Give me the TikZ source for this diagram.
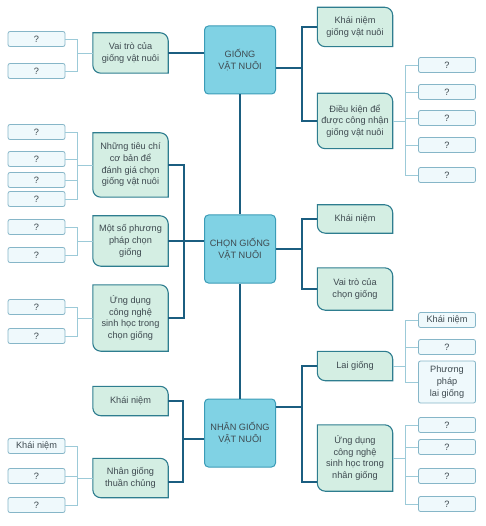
\documentclass[tikz,border=0pt]{standalone}
\usepackage{fontspec}
\setmainfont{Liberation Sans}
\usepackage{tikz}
\usetikzlibrary{positioning,backgrounds}
\definecolor{mainfill}{HTML}{80D2E4}
\definecolor{mainedge}{HTML}{3B9CB7}
\definecolor{subfill}{HTML}{D4EEE3}
\definecolor{subedge}{HTML}{2E7D8F}
\definecolor{leaffill}{HTML}{EFF9FC}
\definecolor{leafedge}{HTML}{86B6C8}
\definecolor{linkcol}{HTML}{1B5E80}
\definecolor{leaflinkcol}{HTML}{9CCAD8}
\definecolor{txt}{HTML}{3E4A50}

\begin{document}
\begin{tikzpicture}[x=1pt,y=-1pt,every node/.style={font=\fontsize{9.2}{11.7}\selectfont,text=txt},
 mainbox/.style={draw=mainedge,fill=mainfill,line width=1pt,rounded corners=4pt,minimum width=71pt,minimum height=68pt,align=center},
 subbox/.style={minimum width=75pt,inner sep=1pt,align=center},
 subshape/.style={draw=subedge,fill=subfill,line width=1.1pt},
 leaf/.style={draw=leafedge,fill=leaffill,line width=0.8pt,rounded corners=2pt,minimum width=57pt,minimum height=15pt,inner sep=1pt,align=center},
 link/.style={draw=linkcol,line width=1.7pt},
 leaflink/.style={draw=leaflinkcol,line width=0.7pt}]
\useasboundingbox (0,0) rectangle (485,526);
% main topics
\node[mainbox](gv) at (240,60){GIỐNG\\VẬT NUÔI};
\node[mainbox](cg) at (240,249){CHỌN GIỐNG\\VẬT NUÔI};
\node[mainbox](ng) at (240,433){NHÂN GIỐNG\\VẬT NUÔI};
% sub topics
\node[subbox,minimum height=40pt](vtg) at (130.5,53){Vai trò của\\giống vật nuôi};
\node[subbox,minimum height=64pt](tc) at (130.5,165){Những tiêu chí\\cơ bản để\\đánh giá chọn\\giống vật nuôi};
\node[subbox,minimum height=50pt](pp) at (130.5,241){Một số phương\\pháp chọn\\giống};
\node[subbox,minimum height=66pt](udc) at (130.5,318){Ứng dụng\\công nghệ\\sinh học trong\\chọn giống};
\node[subbox,minimum height=29pt](knn) at (130.5,401){Khái niệm};
\node[subbox,minimum height=39pt](tcg) at (130.5,478){Nhân giống\\thuần chủng};
\node[subbox,minimum height=39pt](kng) at (355,27){Khái niệm\\giống vật nuôi};
\node[subbox,minimum height=55pt](dk) at (355,121){Điều kiện để\\được công nhận\\giống vật nuôi};
\node[subbox,minimum height=28pt](knc) at (355,219){Khái niệm};
\node[subbox,minimum height=42pt](vtc) at (355,289){Vai trò của\\chọn giống};
\node[subbox,minimum height=29pt](lg) at (355,366){Lai giống};
\node[subbox,minimum height=66pt](udn) at (355,458){Ứng dụng\\công nghệ\\sinh học trong\\nhân giống};
% leaves
\node[leaf](vtg1) at (36.5,39){?}; \node[leaf](vtg2) at (36.5,71){?};
\node[leaf](tc1) at (36.5,132){?}; \node[leaf](tc2) at (36.5,159){?};
\node[leaf](tc3) at (36.5,180){?}; \node[leaf](tc4) at (36.5,199){?};
\node[leaf](pp1) at (36.5,227){?}; \node[leaf](pp2) at (36.5,255){?};
\node[leaf](udc1) at (36.5,307){?}; \node[leaf](udc2) at (36.5,336){?};
\node[leaf](tcg1) at (36.5,446){Khái niệm}; \node[leaf](tcg2) at (36.5,476){?}; \node[leaf](tcg3) at (36.5,505){?};
\node[leaf](dk1) at (447,65){?}; \node[leaf](dk2) at (447,92){?}; \node[leaf](dk3) at (447,118){?};
\node[leaf](dk4) at (447,145){?}; \node[leaf](dk5) at (447,175){?};
\node[leaf](lg1) at (447,320){Khái niệm}; \node[leaf](lg2) at (447,347){?};
\node[leaf,minimum height=42pt](lg3) at (447,382){Phương\\pháp\\lai giống};
\node[leaf](udn1) at (447,425){?}; \node[leaf](udn2) at (447,447){?};
\node[leaf](udn3) at (447,476){?}; \node[leaf](udn4) at (447,504){?};
% sub topic frames
\begin{scope}[on background layer]
\foreach \n in {vtg,tc,pp,udc,knn,tcg,kng,dk,knc,vtc,lg,udn}
 \draw[subshape](\n.north west)--([xshift=-8pt]\n.north east) arc[start angle=90,end angle=0,radius=8pt]--(\n.south east)--([xshift=8pt]\n.south west) arc[start angle=270,end angle=180,radius=8pt]--cycle;
\end{scope}
% connectors
\coordinate (j1) at (302,68); \coordinate (j2) at (184,241); \coordinate (j3) at (302,249);
\coordinate (j4) at (183,439); \coordinate (j5) at (302,407);
\draw[link](gv)--(cg);\draw[link](cg)--(ng);
\draw[link](vtg.east)--(vtg.east -| gv.west);
\draw[link]([yshift=-8pt]gv.east)--(j1);\draw[link](kng.west)-|(j1);\draw[link](dk.west)-|(j1);
\draw[link](tc.east)-|(j2);\draw[link](udc.east)-|(j2);\draw[link](pp.east)--(pp.east -| cg.west);
\draw[link](cg.east)--(j3);\draw[link](knc.west)-|(j3);\draw[link](vtc.west)-|(j3);
\draw[link]([yshift=-6pt]ng.west)--(j4);\draw[link](knn.east)-|(j4);\draw[link]([yshift=-4pt]tcg.east)-|(j4);
\draw[link]([yshift=26pt]ng.east)--(j5);\draw[link](lg.west)-|(j5);\draw[link]([yshift=-24pt]udn.west)-|(j5);
\foreach \q in {vtg1,vtg2} \draw[leaflink](\q.east)--++(12,0)|-(vtg.west);
\foreach \q in {tc1,tc2,tc3,tc4} \draw[leaflink](\q.east)--++(12,0)|-(tc.west);
\foreach \q in {pp1,pp2} \draw[leaflink](\q.east)--++(12,0)|-(pp.west);
\foreach \q in {udc1,udc2} \draw[leaflink](\q.east)--++(12,0)|-(udc.west);
\foreach \q in {tcg1,tcg2,tcg3} \draw[leaflink](\q.east)--++(12,0)|-(tcg.west);
\foreach \q in {dk1,dk2,dk3,dk4,dk5} \draw[leaflink](\q.west)--++(-13,0)|-(dk.east);
\foreach \q in {lg1,lg2,lg3} \draw[leaflink](\q.west)--++(-13,0)|-(lg.east);
\foreach \q in {udn1,udn2,udn3,udn4} \draw[leaflink](\q.west)--++(-13,0)|-(udn.east);
\end{tikzpicture}
\end{document}
